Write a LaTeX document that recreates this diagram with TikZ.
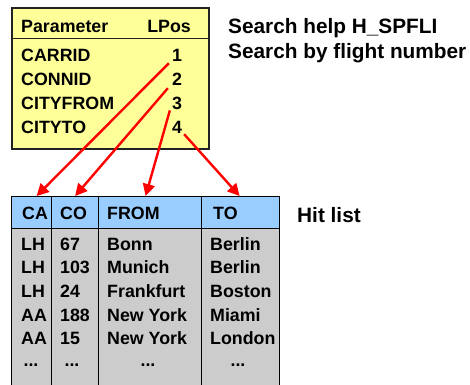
\documentclass[tikz,border=0pt]{standalone}
\usepackage{fontspec}
\setmainfont{Liberation Sans}
\usetikzlibrary{positioning, arrows.meta, calc}
\definecolor{shyellow}{HTML}{FFFF99}
\definecolor{shblue}{HTML}{99CCFF}
\definecolor{shgray}{HTML}{CCCCCC}
\definecolor{shred}{HTML}{FF0000}
\definecolor{shframe}{HTML}{222222}

\begin{document}
\begin{tikzpicture}[x=1pt, y=-1pt,
    cell/.style={draw=black, line width=1.2pt, inner sep=0pt, anchor=north west},
    txt/.style={anchor=base west, inner sep=0pt, font=\fontsize{17.8}{20}\selectfont\bfseries},
    side/.style={anchor=base west, inner sep=0pt, font=\fontsize{20.8}{24}\selectfont\bfseries},
    link/.style={shred, line width=2.4pt, -{Triangle[length=12pt, width=12pt]}}]
  \useasboundingbox (0,0) rectangle (470,384);
  % search help parameters
  \node[draw=shframe, fill=shyellow, line width=1.5pt, inner sep=0pt, anchor=north west,
        minimum width=197pt, minimum height=141pt] (pbox) at (11,7) {};
  \draw[shframe, line width=1pt] ([yshift=-31pt]pbox.north west) -- ([yshift=-31pt]pbox.north east);
  \node[txt] (ppar) at (21,32) {Parameter};
  \node[txt, anchor=base east] (plpos) at (191,32) {LPos};
  \foreach \pname/\pnum [count=\i] in {CARRID/1, CONNID/2, CITYFROM/3, CITYTO/4} {
    \node[txt] (p\i) at (21,{61+24*(\i-1)}) {\pname};
    \node[txt, anchor=base] (n\i) at (177,{61+24*(\i-1)}) {\pnum};
  }
  \node[side] (shtitle) at (228,33) {Search help H\_SPFLI};
  \node[side] (shdesc) at (228,58) {Search by flight number};
  % hit list
  \node[cell, fill=shblue, minimum width=40pt, minimum height=32pt] (hca) at (11,196) {};
  \node[cell, fill=shblue, minimum width=47pt, minimum height=32pt] (hco) at (51,196) {};
  \node[cell, fill=shblue, minimum width=103pt, minimum height=32pt] (hfrom) at (98,196) {};
  \node[cell, fill=shblue, minimum width=78pt, minimum height=32pt] (hto) at (201,196) {};
  \node[cell, fill=shgray, minimum width=40pt, minimum height=165pt] (bca) at (11,228) {};
  \node[cell, fill=shgray, minimum width=47pt, minimum height=165pt] (bco) at (51,228) {};
  \node[cell, fill=shgray, minimum width=103pt, minimum height=165pt] (bfrom) at (98,228) {};
  \node[cell, fill=shgray, minimum width=78pt, minimum height=165pt] (bto) at (201,228) {};
  \node[txt] (tca) at (22,219) {CA};
  \node[txt] (tco) at (60,219) {CO};
  \node[txt] (tfrom) at (107,219) {FROM};
  \node[txt] (tto) at (213,219) {TO};
  \foreach \ca/\co/\cfrom/\cto [count=\i] in {LH/67/Bonn/Berlin, LH/103/Munich/Berlin,
      LH/24/Frankfurt/Boston, AA/188/New York/Miami, AA/15/New York/London} {
    \node[txt] (rca\i) at (21,{250+23.7*(\i-1)}) {\ca};
    \node[txt] (rco\i) at (60,{250+23.7*(\i-1)}) {\co};
    \node[txt] (rfrom\i) at (107,{250+23.7*(\i-1)}) {\cfrom};
    \node[txt] (rto\i) at (210,{250+23.7*(\i-1)}) {\cto};
  }
  \node[txt, anchor=base] (dca) at (31,366) {...};
  \node[txt, anchor=base] (dco) at (72,366) {...};
  \node[txt, anchor=base] (dfrom) at (148,366) {...};
  \node[txt, anchor=base] (dto) at (238,366) {...};
  \node[side] (hitlist) at (297,222) {Hit list};
  % mapping LPos -> columns
  \draw[link] ([shift={(-3,2)}]n1.south west) -- ([xshift=5pt]hca.north);
  \draw[link] ([shift={(-4,3)}]n2.south west) -- (hco.north);
  \draw[link] ([shift={(-2,1)}]n3.south west) -- ([xshift=-4.5pt]hfrom.north);
  \draw[link] ([shift={(2,1)}]n4.south east) -- ([xshift=-1pt]hto.north);
\end{tikzpicture}
\end{document}
